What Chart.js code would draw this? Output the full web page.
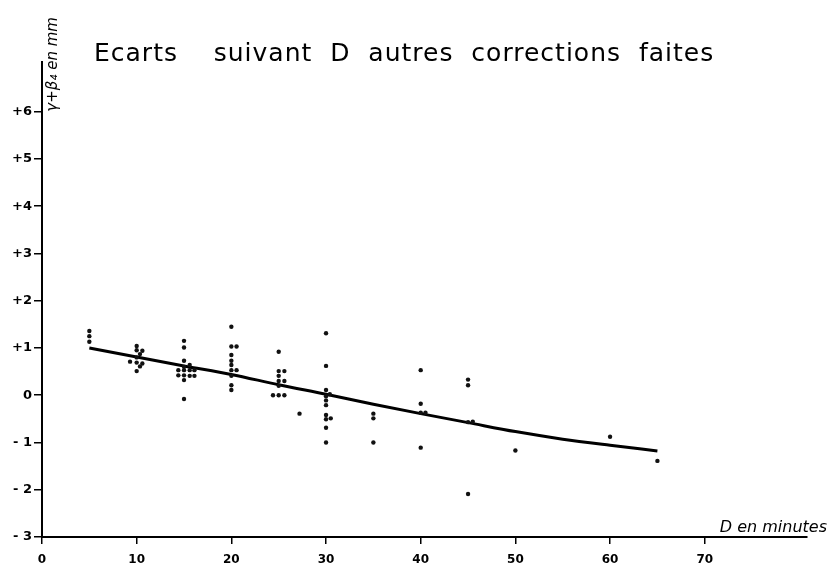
<!DOCTYPE html>
<html>
<head>
<meta charset="utf-8">
<script src="https://cdn.jsdelivr.net/npm/chart.js@4"></script>
<style>
  body { margin: 0; background: #fff; }
  #wrap { width: 829px; height: 571px; }
</style>
</head>
<body>
<div id="wrap"><canvas id="grafico" width="829" height="571"></canvas></div>
<script>
// valeurs
const pointD = [
  5, 5, 5,
  10, 10, 10.6, 10.35, 10, 9.3, 10, 10.6, 10.35, 10,
  15, 15, 15, 15.6, 15, 14.4, 15, 15.6, 16.1, 14.4, 15, 15.6, 16.1, 15, 15,
  20, 20, 20.55, 20, 20, 20, 20, 20.55, 20, 20, 20,
  25, 25, 25.6, 25, 25, 25.6, 25, 24.4, 25, 25.6,
  27.2,
  30, 30, 30, 30.4, 30, 30, 30, 30, 30, 30.5, 30, 30,
  35, 35, 35,
  40, 40, 40, 40.5, 40,
  45, 45, 45, 45.5, 45,
  50, 60, 65
];
const pointEcart = [
  1.36, 1.25, 1.13,
  1.04, 0.95, 0.94, 0.87, 0.80, 0.71, 0.69, 0.67, 0.61, 0.51,
  1.15, 1.01, 0.73, 0.64, 0.60, 0.53, 0.53, 0.53, 0.53, 0.42, 0.42, 0.41, 0.41, 0.32, -0.08,
  1.45, 1.03, 1.03, 0.85, 0.73, 0.64, 0.53, 0.53, 0.41, 0.21, 0.11,
  0.92, 0.51, 0.51, 0.41, 0.30, 0.30, 0.20, 0.0, 0.0, 0.0,
  -0.39,
  1.31, 0.62, 0.11, 0.02, -0.02, -0.11, -0.21, -0.42, -0.51, -0.49, -0.69, -1.0,
  -0.39, -0.49, -1.0,
  0.53, -0.18, -0.37, -0.37, -1.11,
  0.33, 0.21, -0.57, -0.56, -2.09,
  -1.17, -0.88, -1.39
];
const courbeD = [5, 10, 15, 20, 25, 30, 35, 40, 45, 50, 55, 60, 65];
const courbeEcart = [1.0, 0.81, 0.62, 0.44, 0.22, 0.02, -0.19, -0.39, -0.58, -0.77, -0.93, -1.06, -1.18];
const xTicks = [0, 10, 20, 30, 40, 50, 60, 70];
const yTicks = [-3, -2, -1, 0, 1, 2, 3, 4, 5, 6];

const titre = 'Ecarts    suivant  D  autres  corrections  faites';
const titreY = 'γ+β₄ en mm';
const titreX = 'D en minutes';

const textes = {
  id: 'textes',
  beforeDraw(chart) {
    const c = chart.ctx;
    c.save();
    c.fillStyle = '#fff';
    c.fillRect(0, 0, chart.width, chart.height);
    c.restore();
  },
  afterDraw(chart) {
    const c = chart.ctx;
    const xs = chart.scales.x, ys = chart.scales.y;
    c.save();
    c.fillStyle = '#000';
    c.textBaseline = 'alphabetic';
    c.font = '25px "DejaVu Sans"';
    c.letterSpacing = '1px';
    c.textAlign = 'left';
    c.fillText(titre, 94, 61);
    c.letterSpacing = '0px';

    c.font = 'italic 16px "DejaVu Sans"';
    c.textAlign = 'right';
    c.fillText(titreX, chart.width - 2, xs.top - 5);

    c.translate(xs.left + 15, ys.getPixelForValue(6));
    c.rotate(-Math.PI / 2);
    c.font = 'italic 15px "DejaVu Sans"';
    c.textAlign = 'left';
    c.fillText(titreY, 0, 0);
    c.restore();
  }
};

new Chart(document.getElementById('grafico'), {
  type: 'scatter',
  data: {
    datasets: [
      {
        label: 'Ecarts',
        data: pointD.map((d, i) => ({ x: d, y: pointEcart[i] })),
        backgroundColor: '#111',
        borderColor: '#111',
        pointRadius: 2.2,
        pointBorderWidth: 0
      },
      {
        type: 'line',
        label: 'Courbe',
        data: courbeD.map((d, i) => ({ x: d, y: courbeEcart[i] })),
        borderColor: '#000',
        borderWidth: 3,
        pointRadius: 0,
        cubicInterpolationMode: 'monotone',
        fill: false
      }
    ]
  },
  options: {
    responsive: false,
    animation: false,
    layout: { padding: { top: 62, right: 22, left: 0, bottom: 0 } },
    plugins: {
      legend: { display: false },
      title: { display: false },
      tooltip: { enabled: false }
    },
    scales: {
      x: {
        type: 'linear',
        min: 0,
        max: 80.8,
        afterBuildTicks: (axis) => { axis.ticks = xTicks.map(v => ({ value: v })); },
        afterFit: (axis) => { axis.height = 34; },
        border: { display: true, color: '#000', width: 2 },
        grid: { drawOnChartArea: false, drawTicks: true, tickLength: 7, color: '#000', lineWidth: 1.5 },
        ticks: {
          color: '#000',
          padding: 9,
          maxRotation: 0,
          font: { family: 'DejaVu Sans', size: 12, weight: 'bold' }
        }
      },
      y: {
        type: 'linear',
        min: -3,
        max: 7.05,
        afterBuildTicks: (axis) => { axis.ticks = yTicks.map(v => ({ value: v })); },
        afterFit: (axis) => { axis.width = 42; },
        border: { display: true, color: '#000', width: 2 },
        grid: { drawOnChartArea: false, drawTicks: true, tickLength: 8, color: '#000', lineWidth: 1.5 },
        ticks: {
          color: '#000',
          padding: 2,
          font: { family: 'DejaVu Sans', size: 13, weight: 'bold' },
          callback: (v) => v > 0 ? '+' + v : (v < 0 ? '- ' + (-v) : '0')
        }
      }
    }
  },
  plugins: [textes]
});
</script>
</body>
</html>
